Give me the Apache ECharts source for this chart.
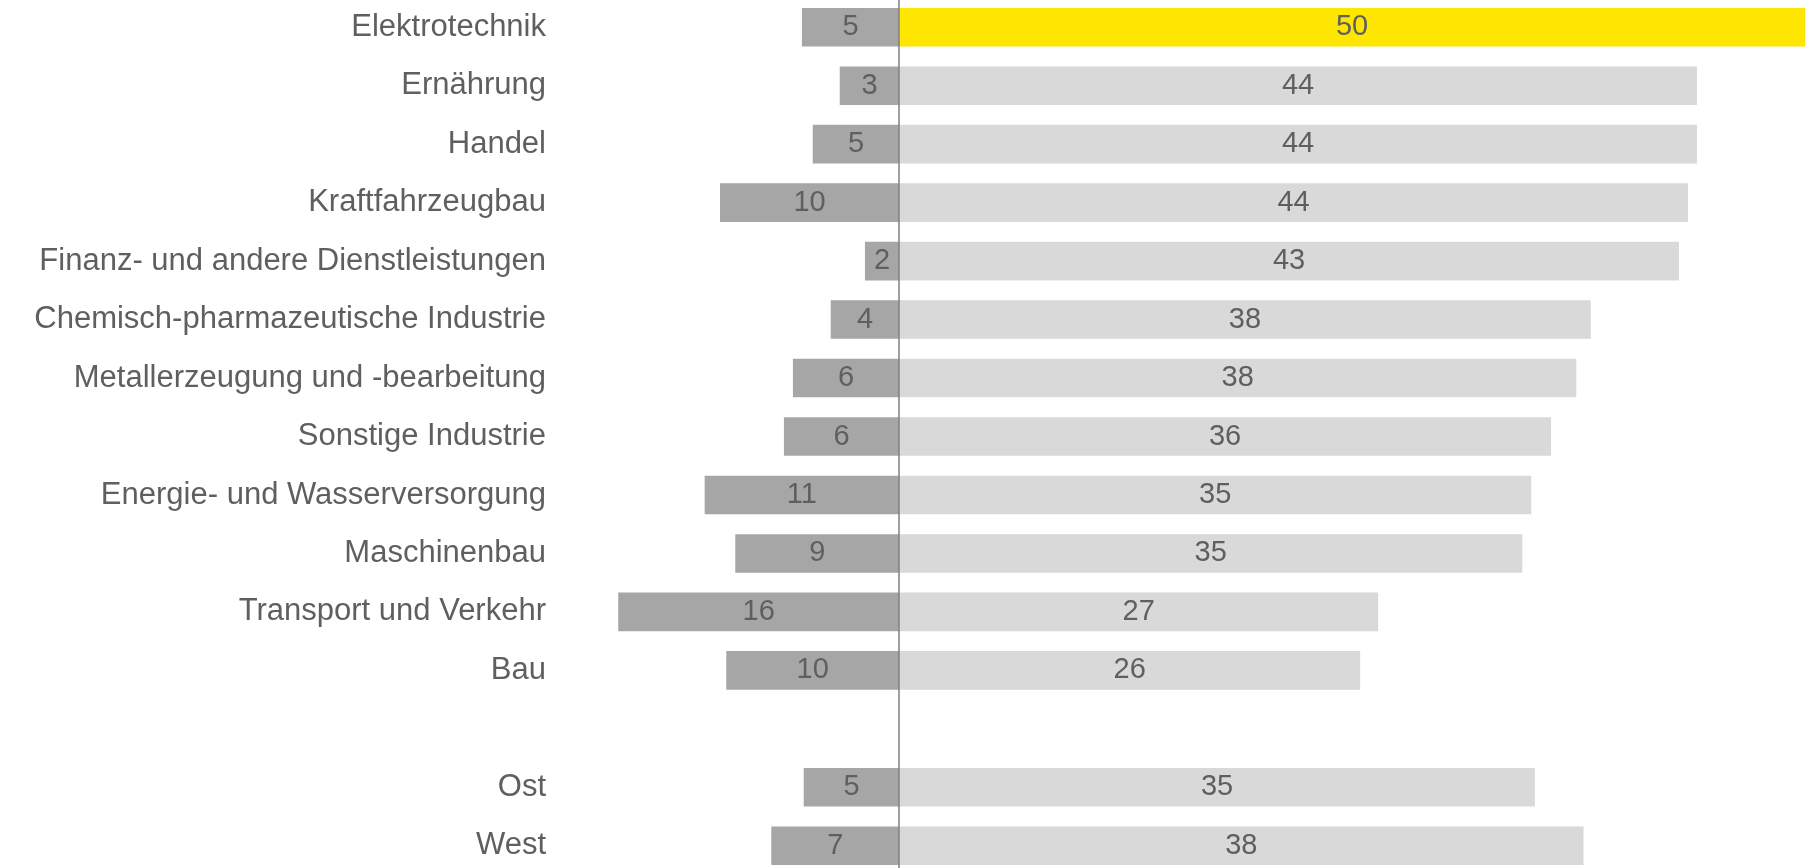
<!DOCTYPE html>
<html>
<head>
<meta charset="utf-8">
<script src="https://cdn.jsdelivr.net/npm/echarts@6/dist/echarts.min.js"></script>
<style>
  html, body { margin: 0; padding: 0; background: #ffffff; overflow: hidden; width: 1805px; height: 868px; }
  #chart { position: absolute; left: 0; top: -2px; width: 1805px; height: 877px; }
</style>
</head>
<body>
<div id="chart"></div>
<script>
// Categories (top to bottom); '' is the empty spacer row
const categories = [
  'Elektrotechnik',
  'Ernährung',
  'Handel',
  'Kraftfahrzeugbau',
  'Finanz- und andere Dienstleistungen',
  'Chemisch-pharmazeutische Industrie',
  'Metallerzeugung und -bearbeitung',
  'Sonstige Industrie',
  'Energie- und Wasserversorgung',
  'Maschinenbau',
  'Transport und Verkehr',
  'Bau',
  '',
  'Ost',
  'West'
];

// Left (dark grey) bars, magnitude in %
const negativeValues = [5.4, 3.3, 4.8, 9.95, 1.9, 3.8, 5.9, 6.4, 10.8, 9.1, 15.6, 9.6, null, 5.3, 7.1];

// Right (light grey) bars in %
const positiveValues = [50.3, 44.3, 44.3, 43.8, 43.3, 38.4, 37.6, 36.2, 35.1, 34.6, 26.6, 25.6, null, 35.3, 38.0];

// Highlighted category
const highlightCategory = 'Elektrotechnik';

const colorNeg = '#a6a6a6';
const colorPos = '#d9d9d9';
const colorHighlight = '#ffe600';
const textColor = '#5f5f5f';

const chart = echarts.init(document.getElementById('chart'), null, { renderer: 'canvas' });

const negData = negativeValues.map(v => v == null ? null : -v);
const posData = positiveValues.map((v, i) => {
  if (v == null) return null;
  if (categories[i] === highlightCategory) {
    return { value: v, itemStyle: { color: colorHighlight } };
  }
  return v;
});

const labelStyle = {
  show: true,
  position: 'inside',
  color: textColor,
  fontFamily: 'Liberation Sans, Arial, sans-serif',
  fontSize: 29,
  formatter: p => p.value == null ? '' : String(Math.round(Math.abs(p.value)))
};

chart.setOption({
  animation: false,
  backgroundColor: '#ffffff',
  grid: { left: 557, right: 0, top: 0, bottom: 0, containLabel: false },
  xAxis: {
    type: 'value',
    min: -19,
    max: 50.3,
    show: false
  },
  yAxis: {
    type: 'category',
    data: categories,
    inverse: true,
    axisLine: { show: false, onZero: false },
    axisTick: { show: false },
    splitLine: { show: false },
    axisLabel: {
      margin: 11,
      color: textColor,
      fontFamily: 'Liberation Sans, Arial, sans-serif',
      fontSize: 31
    }
  },
  series: [
    {
      name: 'negativ',
      type: 'bar',
      data: negData,
      barGap: '-100%',
      barCategoryGap: '34%',
      itemStyle: { color: colorNeg },
      label: labelStyle
    },
    {
      name: 'positiv',
      type: 'bar',
      data: posData,
      barGap: '-100%',
      barCategoryGap: '34%',
      itemStyle: { color: colorPos },
      label: labelStyle,
      markLine: {
        silent: true,
        symbol: ['none', 'none'],
        label: { show: false },
        lineStyle: { color: '#7f7f7f', width: 1.5, type: 'solid' },
        data: [{ xAxis: 0 }]
      }
    }
  ]
});
</script>
</body>
</html>
